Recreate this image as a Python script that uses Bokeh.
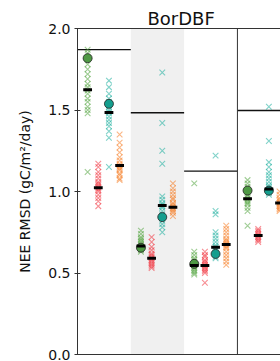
from bokeh.plotting import figure
from bokeh.models import LinearAxis, FixedTicker, BoxAnnotation, Span, Range1d
from bokeh.embed import file_html
from bokeh.resources import INLINE

FONT = "DejaVu Sans"

# ---------------- data ----------------
title_text = "BorDBF"
y_label = "NEE RMSD (gC/m\u00b2/day)"
y_ticks = [0.0, 0.5, 1.0, 1.5, 2.0]
y_tick_labels = ["0.0", "0.5", "1.0", "1.5", "2.0"]

# per-panel reference level (horizontal black line)
ref_level = [1.871, 1.483, 1.125, 1.497]

# ensemble members, one list per panel
green_runs = [
    [1.87, 1.85, 1.82, 1.78, 1.75, 1.72, 1.69, 1.66, 1.64, 1.62, 1.60, 1.57, 1.55, 1.52, 1.50, 1.48, 1.12],
    [0.76, 0.74, 0.72, 0.71, 0.70, 0.69, 0.68, 0.67, 0.66, 0.65, 0.64, 0.63],
    [1.05, 0.63, 0.61, 0.59, 0.58, 0.57, 0.56, 0.55, 0.54, 0.53, 0.52, 0.51, 0.50, 0.49],
    [1.07, 1.05, 1.03, 1.01, 1.00, 0.98, 0.97, 0.96, 0.95, 0.94, 0.93, 0.92, 0.90, 0.88, 0.79],
]
red_runs = [
    [1.17, 1.15, 1.12, 1.10, 1.08, 1.06, 1.05, 1.04, 1.03, 1.02, 1.01, 1.00, 0.98, 0.96, 0.94, 0.91],
    [0.72, 0.69, 0.66, 0.64, 0.62, 0.61, 0.60, 0.59, 0.58, 0.57, 0.56, 0.55, 0.54, 0.53],
    [0.63, 0.61, 0.60, 0.58, 0.57, 0.56, 0.55, 0.54, 0.53, 0.52, 0.51, 0.50, 0.44],
    [0.77, 0.76, 0.75, 0.74, 0.73, 0.72, 0.71, 0.70, 0.69],
]
teal_runs = [
    [1.68, 1.64, 1.60, 1.57, 1.55, 1.52, 1.50, 1.49, 1.48, 1.46, 1.44, 1.42, 1.40, 1.37, 1.33, 1.15],
    [1.73, 1.42, 1.25, 1.17, 0.97, 0.95, 0.93, 0.92, 0.91, 0.90, 0.88, 0.86, 0.84, 0.82, 0.80, 0.78, 0.75],
    [1.22, 0.88, 0.86, 0.75, 0.73, 0.71, 0.69, 0.67, 0.66, 0.65, 0.64, 0.62, 0.61, 0.60, 0.59],
    [1.52, 1.31, 1.18, 1.15, 1.12, 1.10, 1.08, 1.06, 1.04, 1.03, 1.02, 1.01, 1.00, 0.99, 0.98],
]
orange_runs = [
    [1.35, 1.30, 1.27, 1.24, 1.21, 1.19, 1.17, 1.16, 1.15, 1.14, 1.13, 1.11, 1.10, 1.08, 1.07],
    [1.05, 1.02, 1.00, 0.98, 0.96, 0.95, 0.93, 0.92, 0.91, 0.90, 0.89, 0.88, 0.87, 0.85],
    [0.79, 0.77, 0.75, 0.73, 0.71, 0.70, 0.69, 0.68, 0.67, 0.66, 0.65, 0.63, 0.61, 0.59, 0.57, 0.55],
    [1.00, 0.98, 0.96, 0.95, 0.94, 0.93, 0.92, 0.91, 0.90, 0.89, 0.88],
]

# medians (black bars)
green_med = [1.624, 0.665, 0.546, 0.955]
red_med = [1.023, 0.591, 0.546, 0.730]
teal_med = [1.485, 0.914, 0.658, 1.016]
orange_med = [1.160, 0.904, 0.675, 0.930]

# single highlighted values (filled circles)
green_dot = [1.818, 0.655, 0.556, 1.006]
teal_dot = [1.538, 0.843, 0.617, 1.005]

# ---------------- styling ----------------
offsets = [-0.31, -0.11, 0.09, 0.29]
series = [
    (green_runs, green_med, green_dot, "#4fa33a", "#4f9a45"),
    (red_runs, red_med, None, "#f0303a", None),
    (teal_runs, teal_med, teal_dot, "#17ad9c", "#149e8e"),
    (orange_runs, orange_med, None, "#f57a1f", None),
]

p = figure(width=280, height=361, output_backend="svg", toolbar_location=None,
           x_range=Range1d(-0.5, 3.308), y_range=Range1d(0, 2.0),
           min_border_left=77, min_border_right=0, min_border_top=28,
           min_border_bottom=7)
p.background_fill_color = "white"
p.border_fill_color = "white"
p.outline_line_color = None
p.grid.visible = False

p.title.text = title_text
p.title.text_font = FONT
p.title.text_font_size = "18px"
p.title.text_font_style = "normal"
p.title.text_color = "#111111"
p.title.align = "left"
p.title.offset = 70
p.title.standoff = 0

AX = "#333333"
# bottom axis: line only
p.xaxis.ticker = FixedTicker(ticks=[])
p.xaxis.major_label_text_font_size = "0px"
p.xaxis.major_tick_out = 0
p.xaxis.major_tick_in = 0
p.xaxis.minor_tick_out = 0
p.xaxis.minor_tick_in = 0
p.xaxis.major_label_standoff = 0
p.xaxis.axis_line_color = AX

# top spine
top = LinearAxis(ticker=FixedTicker(ticks=[]), major_label_text_font_size="0px",
                 major_tick_out=0, major_tick_in=0, minor_tick_out=0, minor_tick_in=0,
                 major_label_standoff=0, axis_line_color=AX)
p.add_layout(top, "above")

# y axis
p.yaxis.ticker = FixedTicker(ticks=y_ticks)
p.yaxis.major_label_overrides = {t: l for t, l in zip(y_ticks, y_tick_labels)}
p.yaxis.major_label_text_font = FONT
p.yaxis.major_label_text_font_size = "14px"
p.yaxis.major_label_text_color = "#111111"
p.yaxis.major_tick_out = 3
p.yaxis.major_tick_in = 3
p.yaxis.minor_tick_out = 0
p.yaxis.minor_tick_in = 0
p.yaxis.major_label_standoff = 4
p.yaxis.axis_line_color = AX
p.yaxis.major_tick_line_color = AX
p.yaxis.axis_label = y_label
p.yaxis.axis_label_text_font = FONT
p.yaxis.axis_label_text_font_size = "14px"
p.yaxis.axis_label_text_font_style = "normal"
p.yaxis.axis_label_text_color = "#111111"
p.yaxis.axis_label_standoff = 12

# shaded panel and separator
p.add_layout(BoxAnnotation(left=0.5, right=1.5, fill_color="#f0f0f0", fill_alpha=1.0,
                           line_color=None, level="underlay"))
p.add_layout(Span(location=2.5, dimension="height", line_color=AX, line_width=1))

# reference level lines
n = len(ref_level)
p.segment(x0=[i - 0.5 for i in range(n)], x1=[i + 0.5 for i in range(n)],
          y0=ref_level, y1=ref_level, line_color="#111111", line_width=1.3)

for k, (runs, med, dot, col, dcol) in enumerate(series):
    xs, ys = [], []
    for i, vals in enumerate(runs):
        xs += [i + offsets[k]] * len(vals)
        ys += vals
    p.scatter(xs, ys, marker="x", size=8, line_color=col, line_alpha=0.55, line_width=1.1)
for k, (runs, med, dot, col, dcol) in enumerate(series):
    if dot is not None:
        p.scatter([i + offsets[k] for i in range(len(dot))], dot, marker="circle", size=9,
                  fill_color=dcol, line_color="#222222", line_width=0.8)
for k, (runs, med, dot, col, dcol) in enumerate(series):
    p.rect([i + offsets[k] for i in range(len(med))], med, width=0.165, height=3,
           height_units="screen", fill_color="black", line_color=None)

open("out.html", "w").write(file_html(p, INLINE))
